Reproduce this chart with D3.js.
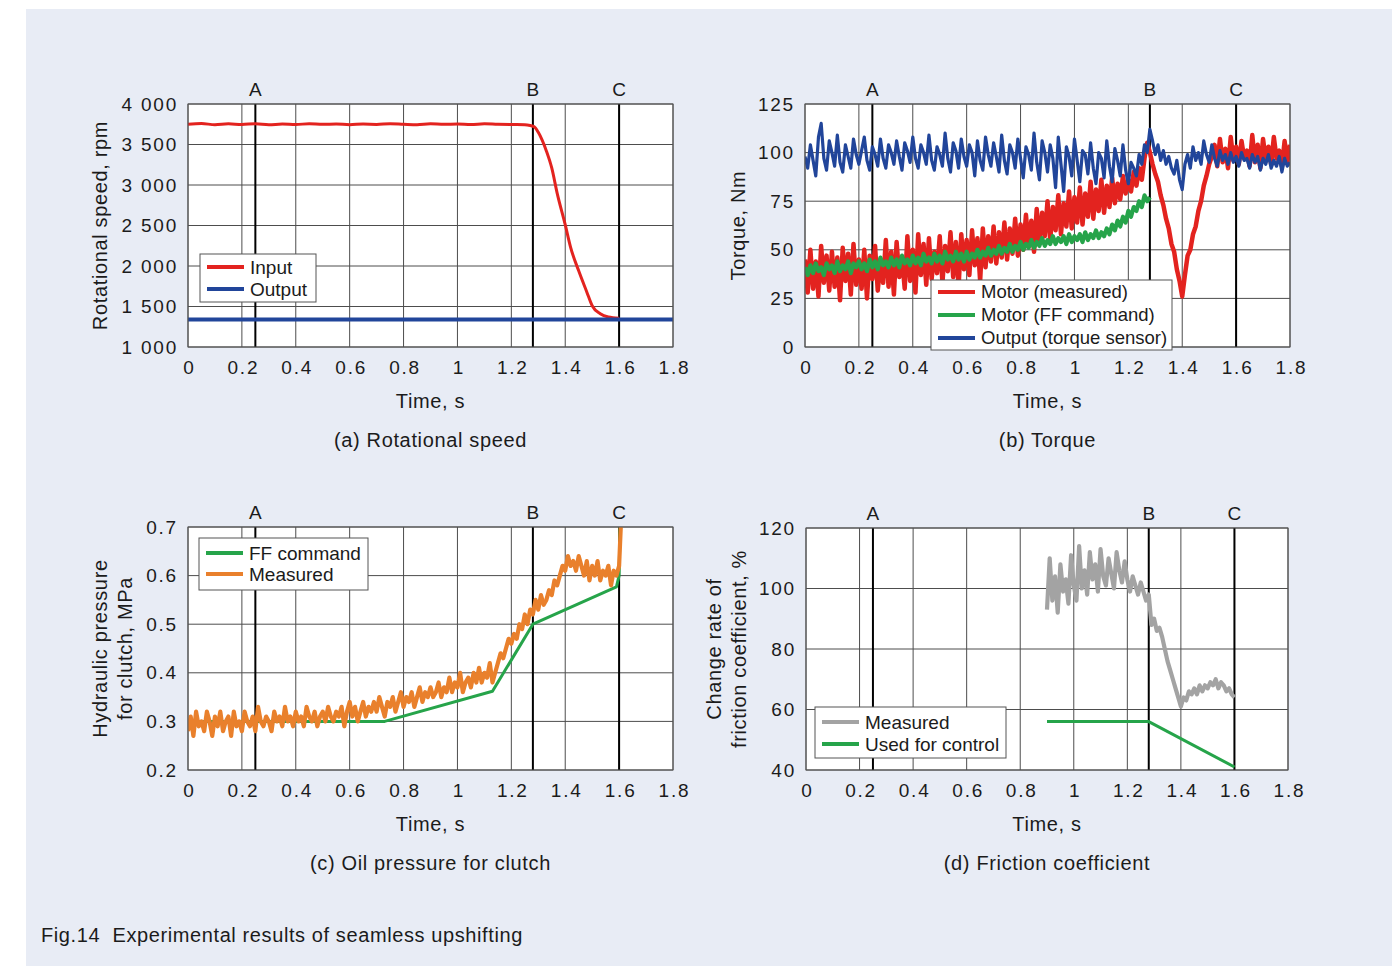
<!DOCTYPE html>
<meta charset="utf-8">
<style>

body {
  margin: 0;
  background: #fff;
}

svg {
  display: block;
}

text {
  font-family: "Liberation Sans", Arial, Helvetica, sans-serif;
  fill: #1b1b1b;
}

</style>
<script src="https://cdnjs.cloudflare.com/ajax/libs/d3/7.8.5/d3.min.js"></script>
<body></body>
<script>

// ---------- data ----------
var dt = 0.01; // sampling step of the recorded traces, s

var timeTicks = [0, 0.2, 0.4, 0.6, 0.8, 1, 1.2, 1.4, 1.6, 1.8];
var timeTickLabels = ['0', '0.2', '0.4', '0.6', '0.8', '1', '1.2', '1.4', '1.6', '1.8'];
var eventNames = ['A', 'B', 'C'];
var eventTimes = [0.25, 1.28, 1.6];

// (a) rotational speed
var speedTicks = [1000, 1500, 2000, 2500, 3000, 3500, 4000];
var speedTickLabels = ['1 000', '1 500', '2 000', '2 500', '3 000', '3 500', '4 000'];
var speedInput = [
	[0, 3750], [0.05, 3758], [0.1, 3745], [0.15, 3755], [0.2, 3748], [0.25, 3756], [0.3, 3744],
	[0.35, 3752], [0.4, 3746], [0.45, 3757], [0.5, 3749], [0.55, 3754], [0.6, 3745], [0.65, 3752],
	[0.7, 3748], [0.75, 3757], [0.8, 3750], [0.85, 3744], [0.9, 3755], [0.95, 3749], [1.0, 3753],
	[1.05, 3746], [1.1, 3756], [1.15, 3750], [1.2, 3747], [1.25, 3745], [1.27, 3735], [1.285, 3720],
	[1.30, 3650], [1.33, 3420], [1.35, 3210], [1.37, 2900], [1.40, 2510], [1.42, 2230], [1.45, 1940],
	[1.48, 1680], [1.50, 1510], [1.53, 1410], [1.56, 1370], [1.60, 1355]
];
var speedOutput = [[0, 1340], [1.8, 1340]];

// (b) torque, sampled every dt from t = 0
var torqueTicks = [0, 25, 50, 75, 100, 125];
var torqueMotorMeasured = [
	45, 28, 50, 30, 44, 26, 52, 33, 47, 29,
	49, 31, 46, 24, 51, 34, 48, 27, 53, 32,
	45, 30, 50, 25, 47, 35, 52, 29, 44, 33,
	55, 31, 49, 27, 54, 36, 46, 30, 57, 34,
	50, 28, 58, 37, 53, 32, 56, 35, 49, 38,
	57, 33, 52, 39, 59, 36, 54, 31, 58, 40,
	55, 37, 60, 42, 56, 34, 61, 41, 57, 44,
	62, 43, 59, 46, 64, 45, 61, 48, 66, 47,
	63, 50, 68, 52, 65, 49, 71, 54, 69, 57,
	75, 55, 72, 60, 78, 58, 74, 62, 80, 61,
	77, 64, 82, 63, 79, 67, 85, 66, 81, 70,
	86, 69, 83, 72, 87, 74, 84, 76, 88, 79,
	86, 80, 90, 83, 92, 86, 97, 105, 100, 94,
	89, 85, 78, 73, 66, 61, 53, 49, 40, 34,
	26, 37, 47, 50, 58, 62, 70, 75, 83, 88,
	94, 98, 104, 93, 107, 95, 102, 92, 108, 96,
	103, 94, 106, 97, 101, 93, 109, 95, 104, 92,
	107, 96, 103, 94, 108, 97, 101, 93, 106, 95,
	104
];
var torqueMotorFF = [
	41, 37, 42, 38, 43, 39, 41, 37, 43, 40,
	42, 38, 44, 39, 42, 40, 44, 38, 43, 41,
	44, 40, 43, 39, 45, 41, 44, 40, 46, 42,
	44, 41, 46, 42, 45, 41, 47, 43, 45, 42,
	47, 43, 46, 42, 48, 44, 46, 43, 48, 44,
	47, 43, 49, 45, 47, 44, 49, 45, 48, 44,
	49, 45, 48, 46, 50, 46, 49, 47, 51, 47,
	50, 48, 52, 48, 51, 49, 53, 49, 52, 50,
	54, 50, 53, 51, 55, 51, 54, 52, 56, 52,
	55, 53, 57, 53, 56, 54, 57, 53, 58, 54,
	57, 55, 58, 54, 59, 55, 58, 56, 60, 56,
	59, 57, 61, 58, 63, 60, 65, 62, 67, 64,
	70, 67, 72, 70, 75, 72, 78, 75, 77
];
var torqueOutput = [
	98, 92, 104, 96, 88, 108, 115, 97, 91, 106,
	100, 93, 109, 95, 90, 104, 98, 92, 107, 99,
	94, 101, 108, 96, 91, 103, 99, 93, 107, 97,
	92, 104, 100, 94, 106, 98, 91, 105, 101, 95,
	108, 97, 92, 104, 100, 94, 109, 96, 91, 103,
	99, 93, 110, 97, 90, 105, 101, 92, 107, 98,
	93, 104, 100, 88, 106, 96, 91, 108, 99, 93,
	105, 98, 90, 109, 96, 89, 104, 100, 92, 107,
	97, 87, 103, 99, 91, 110, 95, 86, 106, 100,
	90, 104, 97, 82, 108, 94, 80, 103, 98, 88,
	107, 96, 85, 101, 99, 89, 105, 92, 84, 100,
	97, 87, 106, 93, 85, 102, 96, 88, 104, 91,
	84, 95, 92, 88, 99, 94, 104, 100, 112, 106,
	99, 104, 96, 101, 94, 98, 92, 89, 96, 86,
	81, 94, 99, 92, 103, 96, 100, 94, 106, 99,
	95, 104, 97, 93, 101, 96, 99, 94, 100, 95,
	98, 93, 100, 96, 97, 92, 99, 95, 98, 91,
	97, 94, 99, 92, 96, 93, 98, 90, 97, 93,
	95
];

// (c) clutch oil pressure
var pressureTicks = [0.2, 0.3, 0.4, 0.5, 0.6, 0.7];
var pressureFF = [[0, 0.3], [0.73, 0.3], [1.13, 0.362], [1.28, 0.50], [1.59, 0.577], [1.60, 0.60], [1.605, 0.75]];
var pressureMeasured = [
	.28, .31, .27, .32, .29, .30, .28, .32, .30, .27,
	.31, .29, .32, .28, .30, .31, .27, .32, .29, .30,
	.28, .32, .30, .29, .31, .28, .33, .30, .29, .31,
	.30, .28, .32, .30, .31, .29, .33, .30, .31, .29,
	.32, .30, .31, .29, .33, .31, .30, .32, .29, .31,
	.32, .30, .33, .31, .30, .32, .31, .33, .29, .32,
	.34, .31, .33, .30, .32, .34, .31, .33, .32, .34,
	.32, .35, .33, .31, .34, .33, .35, .32, .34, .36,
	.33, .35, .34, .36, .33, .35, .37, .34, .36, .35,
	.37, .35, .36, .38, .35, .37, .36, .39, .36, .38,
	.37, .40, .36, .38, .39, .37, .40, .38, .41, .38,
	.40, .39, .42, .38, .40, .42, .44, .43, .45, .47,
	.46, .48, .47, .50, .49, .52, .50, .53, .52, .55,
	.53, .56, .54, .55, .57, .56, .59, .58, .60, .62,
	.61, .64, .62, .63, .61, .64, .62, .60, .63, .59,
	.62, .60, .63, .59, .61, .60, .62, .58, .61, .60,
	.62, .75
];

// (d) friction coefficient change rate, sampled every dt from t = 0.9
var frictionTicks = [40, 60, 80, 100, 120];
var frictionStart = 0.9;
var frictionMeasured = [
	93, 110, 96, 104, 92, 108, 99, 103, 95, 111,
	101, 96, 114, 100, 106, 98, 112, 103, 108, 99,
	113, 104, 101, 110, 105, 100, 112, 106, 102, 109,
	103, 99, 104, 101, 98, 102, 99, 96, 98, 88,
	90, 86, 87, 84, 80, 76, 73, 70, 67, 64,
	61, 64, 63, 66, 65, 67, 65, 68, 66, 68,
	67, 69, 68, 70, 67, 69, 68, 66, 67, 65,
	64
];
var frictionControl = [[0.9, 56], [1.28, 56], [1.6, 41]];

// ---------- helpers ----------
function sampled( values, t0 ) {
	return values.map( ( v, i ) => [ t0 + i * dt, v ] );
}

var red = '#e3231f', green = '#26a44a', blue = '#21459a', orange = '#e9802c', grey = '#a3a3a3';

var width = 1392;
var height = 966;

var svg = d3.select('body').append('svg')
	.attr('width', width)
	.attr('height', height);

svg.append('rect')
	.attr('x', 26).attr('y', 9)
	.attr('width', width - 26).attr('height', height - 9)
	.attr('fill', '#e8ecf5');

var clipId = 0;

function panel( o ) {
	var g = svg.append('g');
	var x = d3.scaleLinear().domain([0, 1.8]).range([o.left, o.right]);
	var y = d3.scaleLinear().domain([o.yTicks[0], o.yTicks[o.yTicks.length - 1]]).range([o.bottom, o.top]);

	g.append('rect')
		.attr('x', o.left).attr('y', o.top)
		.attr('width', o.right - o.left).attr('height', o.bottom - o.top)
		.attr('fill', '#fff');

	//grid
	g.selectAll('.vgrid').data(timeTicks).enter().append('line')
		.attr('x1', d => x(d)).attr('x2', d => x(d))
		.attr('y1', o.top).attr('y2', o.bottom)
		.attr('stroke', '#4d4d4d').attr('stroke-width', 1);
	g.selectAll('.hgrid').data(o.yTicks).enter().append('line')
		.attr('x1', o.left).attr('x2', o.right)
		.attr('y1', d => y(d)).attr('y2', d => y(d))
		.attr('stroke', '#4d4d4d').attr('stroke-width', 1);

	//axes (labels only)
	var xAxis = g.append('g')
		.attr('transform', 'translate(1,' + o.bottom + ')')
		.call(d3.axisBottom(x).tickValues(timeTicks)
			.tickFormat( ( d, i ) => timeTickLabels[i] )
			.tickSize(0).tickPadding(14));
	var yAxis = g.append('g')
		.attr('transform', 'translate(' + (o.left + 1) + ',0)')
		.call(d3.axisLeft(y).tickValues(o.yTicks)
			.tickFormat( ( d, i ) => o.yTickLabels[i] )
			.tickSize(0).tickPadding(11));
	[xAxis, yAxis].forEach( ax => {
		ax.select('.domain').remove();
		ax.selectAll('text')
			.style('font-size', '19px')
			.style('letter-spacing', '1.8px')
			.attr('fill', '#1b1b1b');
	});

	//event markers
	g.selectAll('.event').data(eventTimes).enter().append('line')
		.attr('x1', d => x(d)).attr('x2', d => x(d))
		.attr('y1', o.top).attr('y2', o.bottom)
		.attr('stroke', '#000').attr('stroke-width', 2);
	g.selectAll('.eventName').data(eventNames).enter().append('text')
		.attr('x', ( d, i ) => x(eventTimes[i]))
		.attr('y', o.top - 8)
		.attr('text-anchor', 'middle')
		.style('font-size', '19px')
		.text(d => d);

	//series
	clipId++;
	g.append('clipPath').attr('id', 'clip' + clipId)
		.append('rect')
		.attr('x', o.left).attr('y', o.top)
		.attr('width', o.right - o.left).attr('height', o.bottom - o.top);
	var plot = g.append('g').attr('clip-path', 'url(#clip' + clipId + ')');
	o.series.forEach( s => {
		var line = d3.line().x(d => x(d[0])).y(d => y(d[1]))
			.curve(s.smooth ? d3.curveMonotoneX : d3.curveLinear);
		plot.append('path')
			.datum(s.data)
			.attr('d', line)
			.attr('fill', 'none')
			.attr('stroke', s.color)
			.attr('stroke-width', s.width)
			.attr('stroke-linejoin', 'round');
	});

	//border
	g.append('rect')
		.attr('x', o.left).attr('y', o.top)
		.attr('width', o.right - o.left).attr('height', o.bottom - o.top)
		.attr('fill', 'none').attr('stroke', '#555').attr('stroke-width', 1);

	//legend
	var L = o.legend;
	var lg = g.append('g');
	lg.append('rect')
		.attr('x', L.x).attr('y', L.y)
		.attr('width', L.w).attr('height', L.h)
		.attr('fill', '#fff').attr('stroke', '#555').attr('stroke-width', 1);
	L.items.forEach( ( item, i ) => {
		var cy = L.y + L.pad + i * L.step;
		lg.append('line')
			.attr('x1', L.x + 7).attr('x2', L.x + 44)
			.attr('y1', cy).attr('y2', cy)
			.attr('stroke', item.color).attr('stroke-width', 4);
		lg.append('text')
			.attr('x', L.x + 50).attr('y', cy)
			.attr('dy', '0.35em')
			.style('font-size', L.size + 'px')
			.text(item.label);
	});

	//titles
	var cx = (o.left + o.right) / 2;
	g.append('text')
		.attr('x', cx).attr('y', o.bottom + 61)
		.attr('text-anchor', 'middle')
		.style('font-size', '20px')
		.style('letter-spacing', '0.65px')
		.text('Time, s');
	g.append('text')
		.attr('x', cx).attr('y', o.bottom + 100)
		.attr('text-anchor', 'middle')
		.style('font-size', '20px')
		.style('letter-spacing', '0.65px')
		.text(o.title);
	var cyMid = (o.top + o.bottom) / 2;
	o.yLabel.forEach( ( t, i ) => {
		g.append('text')
			.attr('transform', 'translate(' + (o.yLabelX + i * 25) + ',' + cyMid + ') rotate(-90)')
			.attr('text-anchor', 'middle')
			.style('font-size', '20px')
			.style('letter-spacing', '0.65px')
			.text(t);
	});
}

panel({
	left: 188, right: 673, top: 104, bottom: 347,
	yTicks: speedTicks, yTickLabels: speedTickLabels,
	yLabel: ['Rotational speed, rpm'], yLabelX: 107,
	title: '(a) Rotational speed',
	series: [
		{ data: speedInput, color: red, width: 3, smooth: true },
		{ data: speedOutput, color: blue, width: 4 }
	],
	legend: { x: 200, y: 254, w: 116, h: 48, pad: 13, step: 22, size: 19,
		items: [ { label: 'Input', color: red }, { label: 'Output', color: blue } ] }
});

panel({
	left: 805, right: 1290, top: 104, bottom: 347,
	yTicks: torqueTicks, yTickLabels: torqueTicks.map(String),
	yLabel: ['Torque, Nm'], yLabelX: 745,
	title: '(b) Torque',
	series: [
		{ data: sampled(torqueMotorMeasured, 0), color: red, width: 4.5 },
		{ data: sampled(torqueOutput, 0), color: blue, width: 3.2 },
		{ data: sampled(torqueMotorFF, 0), color: green, width: 4.2 }
	],
	legend: { x: 931, y: 280, w: 241, h: 70, pad: 12, step: 23, size: 18.5,
		items: [
			{ label: 'Motor (measured)', color: red },
			{ label: 'Motor (FF command)', color: green },
			{ label: 'Output (torque sensor)', color: blue }
		] }
});

panel({
	left: 188, right: 673, top: 527, bottom: 770,
	yTicks: pressureTicks, yTickLabels: pressureTicks.map(String),
	yLabel: ['Hydraulic pressure', 'for clutch, MPa'], yLabelX: 107,
	title: '(c) Oil pressure for clutch',
	series: [
		{ data: pressureFF, color: green, width: 3 },
		{ data: sampled(pressureMeasured, 0), color: orange, width: 4.2 }
	],
	legend: { x: 199, y: 538, w: 169, h: 52, pad: 15, step: 21, size: 19,
		items: [ { label: 'FF command', color: green }, { label: 'Measured', color: orange } ] }
});

panel({
	left: 806, right: 1288, top: 528, bottom: 770,
	yTicks: frictionTicks, yTickLabels: frictionTicks.map(String),
	yLabel: ['Change rate of', 'friction coefficient, %'], yLabelX: 721,
	title: '(d) Friction coefficient',
	series: [
		{ data: sampled(frictionMeasured, frictionStart), color: grey, width: 4.2 },
		{ data: frictionControl, color: green, width: 3 }
	],
	legend: { x: 815, y: 707, w: 191, h: 51, pad: 15, step: 22, size: 19,
		items: [ { label: 'Measured', color: grey }, { label: 'Used for control', color: green } ] }
});

svg.append('text')
	.attr('x', 41).attr('y', 942)
	.style('font-size', '20px')
	.style('letter-spacing', '0.6px')
	.style('white-space', 'pre')
	.text('Fig.14  Experimental results of seamless upshifting');

</script>
